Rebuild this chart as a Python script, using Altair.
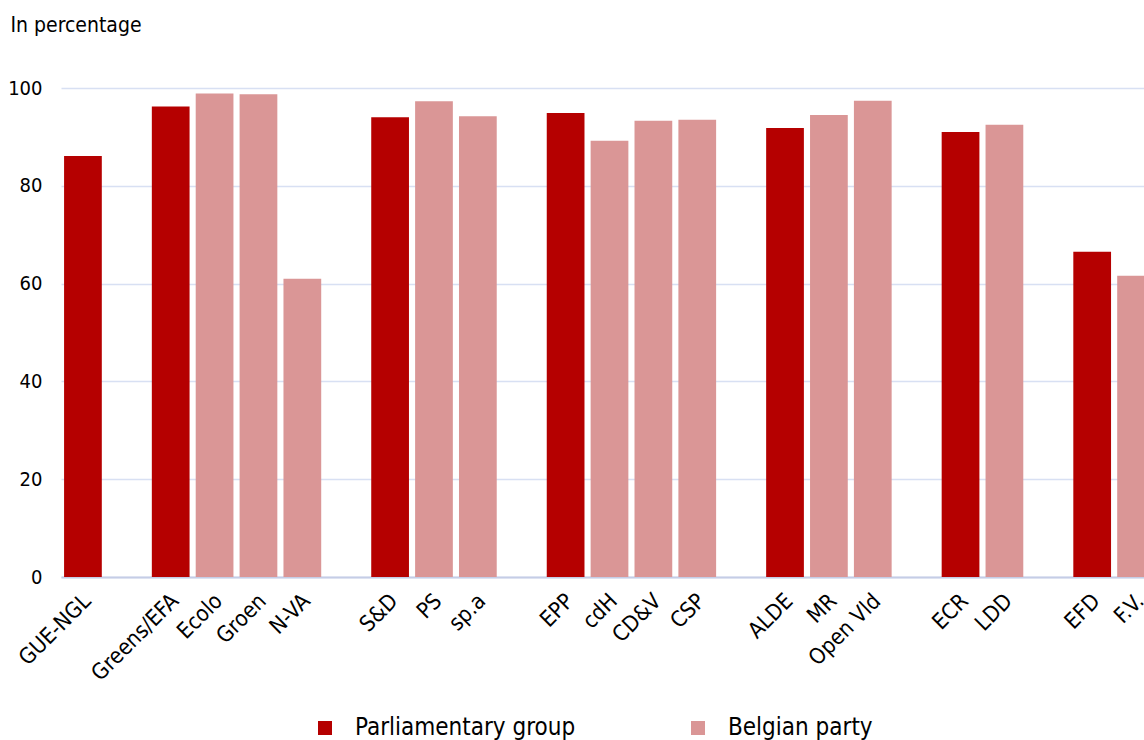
import altair as alt
import pandas as pd

# Slots along the x axis (gap slots are blank placeholders)
slots = ["GUE-NGL", "_g1", "Greens/EFA", "Ecolo", "Groen", "N-VA", "_g2",
         "S&D", "PS", "sp.a", "_g3", "EPP", "cdH", "CD&V", "CSP", "_g4",
         "ALDE", "MR", "Open Vld", "_g5", "ECR", "LDD", "_g6", "EFD", "F.V."]

names = ["GUE-NGL", "Greens/EFA", "Ecolo", "Groen", "N-VA",
         "S&D", "PS", "sp.a", "EPP", "cdH", "CD&V", "CSP",
         "ALDE", "MR", "Open Vld", "ECR", "LDD", "EFD", "F.V."]
values = [86.1, 96.2, 98.9, 98.7, 61.0,
          94.0, 97.3, 94.2, 94.9, 89.2, 93.3, 93.5,
          91.8, 94.5, 97.4, 91.0, 92.5, 66.5, 61.6]
kinds = ["Parliamentary group", "Parliamentary group", "Belgian party", "Belgian party", "Belgian party",
         "Parliamentary group", "Belgian party", "Belgian party",
         "Parliamentary group", "Belgian party", "Belgian party", "Belgian party",
         "Parliamentary group", "Belgian party", "Belgian party",
         "Parliamentary group", "Belgian party",
         "Parliamentary group", "Belgian party"]

legend_order = ["Parliamentary group", "Belgian party"]
colors = ["#b50000", "#da9696"]

df = pd.DataFrame({"name": names, "value": values, "kind": kinds})

FONT = "DejaVu Sans Condensed"

chart = alt.Chart(df).mark_bar().encode(
    x=alt.X("name:N", sort=slots,
            scale=alt.Scale(domain=slots, range=[0, 1097], paddingInner=0.14, paddingOuter=0.07),
            axis=alt.Axis(title=None, labelAngle=-45, labelFontSize=22, labelFont=FONT,
                          labelColor="#000000", ticks=False, labelPadding=13, labelOffset=-3,
                          domainColor="#c5cde6", domainWidth=2,
                          labelExpr="indexof(datum.value, '_g') == 0 ? '' : datum.value")),
    y=alt.Y("value:Q", scale=alt.Scale(domain=[0, 100]),
            axis=alt.Axis(values=[0, 20, 40, 60, 80, 100], title="In percentage",
                          titleAngle=0, titleAlign="left", titleBaseline="alphabetic",
                          titleX=-51, titleY=-57, titleFont=FONT, titleFontSize=21,
                          titleFontWeight="normal", titleColor="#000000",
                          labelFont=FONT, labelFontSize=20, labelColor="#000000",
                          labelPadding=19, ticks=False, domain=False,
                          gridColor="#d8e0f3", gridWidth=1.5)),
    color=alt.Color("kind:N", scale=alt.Scale(domain=legend_order, range=colors),
                    legend=alt.Legend(title=None, orient="none", direction="horizontal",
                                      legendX=252, legendY=628, symbolType="square",
                                      symbolSize=196, symbolStrokeWidth=0, symbolOpacity=1,
                                      labelFont=FONT, labelFontSize=24, labelColor="#000000",
                                      labelOffset=18, columnPadding=110, padding=0,
                                      labelLimit=400)),
).properties(
    width=1083,
    height=489,
    autosize=alt.AutoSizeParams(type="none"),
    padding={"left": 61, "top": 88, "right": 0, "bottom": 163},
).configure_view(stroke=None)

chart.save("out.html", embed_options={"renderer": "svg", "actions": False})
